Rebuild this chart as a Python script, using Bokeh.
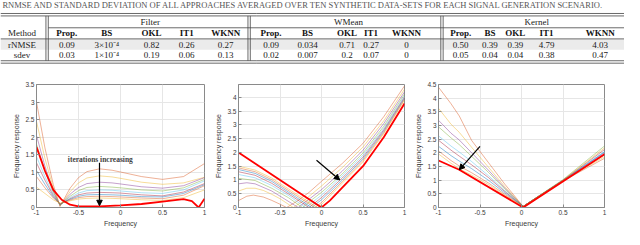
from bokeh.plotting import figure
from bokeh.models import Range1d, FixedTicker, Arrow, NormalHead, Label
from bokeh.layouts import column, row
from bokeh.embed import file_html
from bokeh.resources import INLINE
from bokeh.core.properties import value

# ---------------- table data ----------------
caption = ("RNMSE AND STANDARD DEVIATION OF ALL APPROACHES AVERAGED OVER TEN "
           "SYNTHETIC DATA-SETS FOR EACH SIGNAL GENERATION SCENARIO.")
groups = ["Filter", "WMean", "Kernel"]
methods = ["Prop.", "BS", "OKL", "IT1", "WKNN"]
row_labels = ["rNMSE", "sdev"]
filter_rnmse = ["0.09", "3\u00d710\u207b\u2074", "0.82", "0.26", "0.27"]
filter_sdev = ["0.03", "1\u00d710\u207b\u2074", "0.19", "0.06", "0.13"]
wmean_rnmse = ["0.09", "0.034", "0.71", "0.27", "0"]
wmean_sdev = ["0.02", "0.007", "0.2", "0.07", "0"]
kernel_rnmse = ["0.50", "0.39", "0.39", "4.79", "4.03"]
kernel_sdev = ["0.05", "0.04", "0.04", "0.38", "0.47"]

# ---------------- axis ticks ----------------
x_ticks = [-1, -0.5, 0, 0.5, 1]
x_tick_labels = ["-1", "-0.5", "0", "0.5", "1"]
y_ticks_1 = [0, 0.5, 1, 1.5, 2, 2.5, 3, 3.5]
y_tick_labels_1 = ["0", "0.5", "1", "1.5", "2", "2.5", "3", "3.5"]
y_ticks_2 = [0, 0.5, 1, 1.5, 2, 2.5, 3, 3.5, 4]
y_tick_labels_2 = ["0", "0.5", "1", "1.5", "2", "2.5", "3", "3.5", "4"]
y_ticks_3 = [0, 0.5, 1, 1.5, 2, 2.5, 3, 3.5, 4, 4.5]
y_tick_labels_3 = ["0", "0.5", "1", "1.5", "2", "2.5", "3", "3.5", "4", "4.5"]

# ---------------- plot 1 (Filter) ----------------
f_x = [-1, -0.9, -0.8, -0.72, -0.6, -0.5, -0.4, -0.25, -0.1, 0, 0.25, 0.5, 0.75, 1]
f_it1 = [3.00, 1.70, 0.65, 0.03, 0.55, 0.85, 1.02, 1.10, 1.06, 1.01, 0.88, 0.80, 0.88, 1.25]
f_it2 = [2.45, 1.40, 0.55, 0.05, 0.45, 0.70, 0.84, 0.90, 0.87, 0.83, 0.72, 0.66, 0.70, 0.86]
f_it3 = [2.05, 1.18, 0.47, 0.06, 0.38, 0.57, 0.68, 0.72, 0.70, 0.67, 0.59, 0.55, 0.62, 0.85]
f_it4 = [1.80, 1.05, 0.43, 0.07, 0.32, 0.48, 0.57, 0.60, 0.58, 0.56, 0.50, 0.47, 0.56, 0.80]
f_it5 = [1.45, 0.88, 0.38, 0.08, 0.28, 0.41, 0.48, 0.50, 0.49, 0.47, 0.42, 0.40, 0.50, 0.76]
f_it6 = [1.27, 0.78, 0.34, 0.09, 0.25, 0.36, 0.41, 0.43, 0.42, 0.41, 0.36, 0.33, 0.44, 0.68]
f_it7 = [1.05, 0.66, 0.30, 0.10, 0.23, 0.32, 0.36, 0.37, 0.36, 0.35, 0.31, 0.30, 0.40, 0.65]
f_it8 = [0.88, 0.56, 0.27, 0.11, 0.21, 0.28, 0.31, 0.32, 0.31, 0.30, 0.27, 0.25, 0.35, 0.62]
f_it9 = [0.58, 0.40, 0.22, 0.12, 0.19, 0.24, 0.26, 0.27, 0.26, 0.25, 0.22, 0.20, 0.28, 0.50]
f_final_x = [-1, -0.9, -0.8, -0.7, -0.6, -0.5, -0.25, 0, 0.25, 0.5, 0.75, 0.85, 0.93, 1]
f_final_y = [1.72, 1.05, 0.50, 0.22, 0.08, 0.03, 0.03, 0.06, 0.10, 0.17, 0.24, 0.18, 0.0, 0.25]

# ---------------- plot 2 (WMean) ----------------
w_x1 = [-1, -0.9, -0.82, -0.7, -0.6, -0.5, -0.42, -0.3, -0.15, 0, 0.25, 0.5, 0.75, 1]
w_it1 = [0.25, 0.41, 0.45, 0.38, 0.26, 0.12, 0.0, 0.22, 0.55, 0.95, 1.60, 2.33, 3.30, 4.42]
w_x2 = [-1, -0.9, -0.8, -0.7, -0.6, -0.5, -0.34, -0.2, 0, 0.25, 0.5, 0.75, 1]
w_it2 = [0.60, 0.70, 0.70, 0.62, 0.48, 0.32, 0.0, 0.28, 0.78, 1.45, 2.20, 3.15, 4.30]
w_x3 = [-1, -0.9, -0.8, -0.6, -0.45, -0.28, -0.15, 0, 0.25, 0.5, 0.75, 1]
w_it3 = [0.86, 0.90, 0.86, 0.60, 0.32, 0.0, 0.30, 0.65, 1.32, 2.08, 3.05, 4.20]
w_x4 = [-1, -0.8, -0.6, -0.4, -0.23, -0.1, 0, 0.25, 0.5, 0.75, 1]
w_it4 = [1.06, 0.98, 0.70, 0.36, 0.0, 0.32, 0.55, 1.22, 1.98, 2.95, 4.12]
w_x5 = [-1, -0.8, -0.6, -0.4, -0.19, 0, 0.25, 0.5, 0.75, 1]
w_it5 = [1.20, 1.08, 0.80, 0.44, 0.0, 0.45, 1.15, 1.90, 2.88, 4.06]
w_x6 = [-1, -0.8, -0.6, -0.4, -0.15, 0, 0.25, 0.5, 0.75, 1]
w_it6 = [1.30, 1.17, 0.88, 0.50, 0.0, 0.36, 1.07, 1.83, 2.82, 4.01]
w_x7 = [-1, -0.8, -0.6, -0.4, -0.12, 0, 0.25, 0.5, 0.75, 1]
w_it7 = [1.38, 1.24, 0.95, 0.56, 0.0, 0.28, 1.00, 1.77, 2.77, 3.97]
w_x8 = [-1, -0.8, -0.6, -0.4, -0.08, 0, 0.25, 0.5, 0.75, 1]
w_it8 = [1.44, 1.30, 1.01, 0.62, 0.0, 0.18, 0.94, 1.71, 2.72, 3.93]
w_x9 = [-1, -0.8, -0.6, -0.4, -0.05, 0, 0.25, 0.5, 0.75, 1]
w_it9 = [1.50, 1.36, 1.07, 0.68, 0.0, 0.11, 0.88, 1.65, 2.68, 3.90]
w_final_x = [-1, 0, 0.1, 0.25, 0.5, 0.75, 1]
w_final_y = [2.0, 0.0, 0.25, 0.72, 1.50, 2.55, 3.78]

# ---------------- plot 3 (Kernel) ----------------
k_x = [-1, -0.85, -0.75, -0.6, -0.4, -0.2, 0.02, 0.5, 1]
k_it1 = [4.40, 3.80, 3.35, 2.45, 1.65, 0.85, 0.04, 0.97, 1.80]
k_it2 = [3.63, 3.05, 2.75, 2.20, 1.48, 0.76, 0.04, 0.98, 1.86]
k_it3 = [3.19, 2.72, 2.47, 2.00, 1.37, 0.71, 0.04, 0.99, 2.00]
k_it4 = [2.95, 2.55, 2.30, 1.87, 1.29, 0.67, 0.04, 1.02, 2.25]
k_it5 = [2.62, 2.25, 2.03, 1.68, 1.17, 0.61, 0.04, 1.00, 2.05]
k_it6 = [2.46, 2.10, 1.88, 1.56, 1.10, 0.58, 0.04, 1.00, 2.12]
k_it7 = [2.24, 1.90, 1.70, 1.42, 1.00, 0.53, 0.04, 0.99, 2.03]
k_it8 = [2.07, 1.72, 1.52, 1.27, 0.90, 0.48, 0.04, 0.98, 1.92]
k_it9 = [1.96, 1.62, 1.42, 1.18, 0.84, 0.44, 0.04, 1.00, 2.18]
k_final_x = [-1, -0.75, 0.02, 1]
k_final_y = [1.72, 1.38, 0.0, 1.95]

# annotations (data coordinates)
f_note = "iterations increasing"
f_note_xy = (-0.24, 1.36)
f_arrow = (-0.25, 1.27, -0.25, 0.05)
w_arrow = (-0.06, 1.72, 0.22, 1.0)
k_arrow = (-0.5, 2.24, -0.75, 1.38)

palette = ["#D95319", "#EDB120", "#7E2F8E", "#77AC30", "#4DBEEE", "#A2142F", "#0072BD"]

FONT = "Liberation Sans"
SERIF = "Liberation Serif"
AXIS_COL = "#8a8a8a"
TXT_COL = "#3a3a3a"

# ---------------- table figure ----------------
tbl = figure(width=624, height=64, x_range=Range1d(0, 640), y_range=Range1d(68, 0),
             output_backend="svg", toolbar_location=None, min_border=0)
tbl.axis.visible = False
tbl.grid.visible = False
tbl.outline_line_color = None

tbl.quad(left=0, right=640, top=41.3, bottom=52.3, fill_color="#ebebeb", line_color=None)

rule_col = "#444444"
h_rules = [(0, 640, 13.8), (0, 640, 16.4), (49, 640, 29.0), (0, 640, 40.8), (0, 640, 64.0), (0, 640, 66.6)]
tbl.segment(x0=[r[0] for r in h_rules], x1=[r[1] for r in h_rules],
            y0=[r[2] for r in h_rules], y1=[r[2] for r in h_rules],
            line_color=rule_col, line_width=0.8)
v_rules = [46.6, 49.0, 253.8, 256.2, 451.6, 454.0]
tbl.segment(x0=v_rules, x1=v_rules, y0=[16.4] * 6, y1=[64.0] * 6,
            line_color=rule_col, line_width=0.8)

tbl.text(x=[2], y=[5.0], text=[caption], text_align="left", text_baseline="middle",
         text_font=value(SERIF), text_font_size="8.5px", text_color="#555555")

col_x = [[68, 109, 155, 191, 231], [277.5, 315, 355.5, 380, 416.5], [472, 502, 528, 560, 615]]
group_x = [153.5, 357, 550]
method_x = 22
y_group, y_head, y_r1, y_r2 = 23.2, 35.0, 46.8, 58.3

tbl.text(x=group_x, y=[y_group] * 3, text=groups, text_align="center", text_baseline="middle",
         text_font=value(SERIF), text_font_size="9px", text_color="#222222")
tbl.text(x=[method_x, method_x, method_x], y=[y_head, y_r1, y_r2], text=["Method"] + row_labels,
         text_align="center", text_baseline="middle",
         text_font=value(SERIF), text_font_size="9px", text_color="#222222")
hx, hy, ht = [], [], []
vx, vy, vt = [], [], []
for cols, r1, r2 in zip(col_x, [filter_rnmse, wmean_rnmse, kernel_rnmse],
                        [filter_sdev, wmean_sdev, kernel_sdev]):
    for cx, m, a, b in zip(cols, methods, r1, r2):
        hx.append(cx); hy.append(y_head); ht.append(m)
        vx += [cx, cx]; vy += [y_r1, y_r2]; vt += [a, b]
tbl.text(x=hx, y=hy, text=ht, text_align="center", text_baseline="middle",
         text_font=value(SERIF), text_font_size="9px", text_font_style="bold", text_color="#111111")
tbl.text(x=vx, y=vy, text=vt, text_align="center", text_baseline="middle",
         text_font=value(SERIF), text_font_size="9px", text_color="#222222")


def make_plot(w, bl, br, ymax, yt, ytl, xs, ys, rx, ry, arrow):
    p = figure(width=w, height=165, x_range=Range1d(-1, 1), y_range=Range1d(0, ymax),
               output_backend="svg", toolbar_location=None,
               min_border_left=bl, min_border_right=br, min_border_top=20, min_border_bottom=22)
    p.outline_line_color = AXIS_COL
    p.outline_line_width = 1
    for i, (cx, cy) in enumerate(zip(xs, ys)):
        p.line(cx, cy, line_color=palette[i % 7], line_alpha=0.45, line_width=1)
    p.line(rx, ry, line_color="#ff0000", line_width=1.8)
    p.xaxis.ticker = FixedTicker(ticks=x_ticks)
    p.xaxis.major_label_overrides = {t: l for t, l in zip(x_ticks, x_tick_labels)}
    p.yaxis.ticker = FixedTicker(ticks=yt)
    p.yaxis.major_label_overrides = {t: l for t, l in zip(yt, ytl)}
    p.xaxis.axis_label = "Frequency"
    p.yaxis.axis_label = "Frequency response"
    for ax in (p.xaxis[0], p.yaxis[0]):
        ax.axis_line_color = AXIS_COL
        ax.major_tick_line_color = AXIS_COL
        ax.major_tick_in = 3
        ax.major_tick_out = 0
        ax.minor_tick_in = 0
        ax.minor_tick_out = 0
        ax.major_label_text_font = FONT
        ax.major_label_text_font_size = "6.5px"
        ax.major_label_text_color = TXT_COL
        ax.major_label_standoff = 2
        ax.axis_label_text_font = FONT
        ax.axis_label_text_font_size = "7px"
        ax.axis_label_text_font_style = "normal"
        ax.axis_label_text_color = TXT_COL
        ax.axis_label_standoff = 2
    p.grid.grid_line_color = "#e6e6e6"
    p.grid.grid_line_width = 1
    p.add_layout(Arrow(end=NormalHead(size=5.5, fill_color="black", line_color="black"),
                       x_start=arrow[0], y_start=arrow[1], x_end=arrow[2], y_end=arrow[3],
                       line_color="black", line_width=1.2))
    return p


p1 = make_plot(212, 36, 8, 3.5, y_ticks_1, y_tick_labels_1,
               [f_x] * 9, [f_it1, f_it2, f_it3, f_it4, f_it5, f_it6, f_it7, f_it8, f_it9],
               f_final_x, f_final_y, f_arrow)
p1.add_layout(Label(x=f_note_xy[0], y=f_note_xy[1], text=f_note, text_align="center",
                    text_baseline="middle", text_font=SERIF, text_font_size="7.5px",
                    text_font_style="bold", text_color="#444444"))
p2 = make_plot(200, 24, 8, 4.47, y_ticks_2, y_tick_labels_2,
               [w_x1, w_x2, w_x3, w_x4, w_x5, w_x6, w_x7, w_x8, w_x9],
               [w_it1, w_it2, w_it3, w_it4, w_it5, w_it6, w_it7, w_it8, w_it9],
               w_final_x, w_final_y, w_arrow)
p3 = make_plot(212, 23, 20, 4.5, y_ticks_3, y_tick_labels_3,
               [k_x] * 9, [k_it1, k_it2, k_it3, k_it4, k_it5, k_it6, k_it7, k_it8, k_it9],
               k_final_x, k_final_y, k_arrow)

layout = column(tbl, row(p1, p2, p3))
open("out.html", "w").write(file_html(layout, INLINE))
